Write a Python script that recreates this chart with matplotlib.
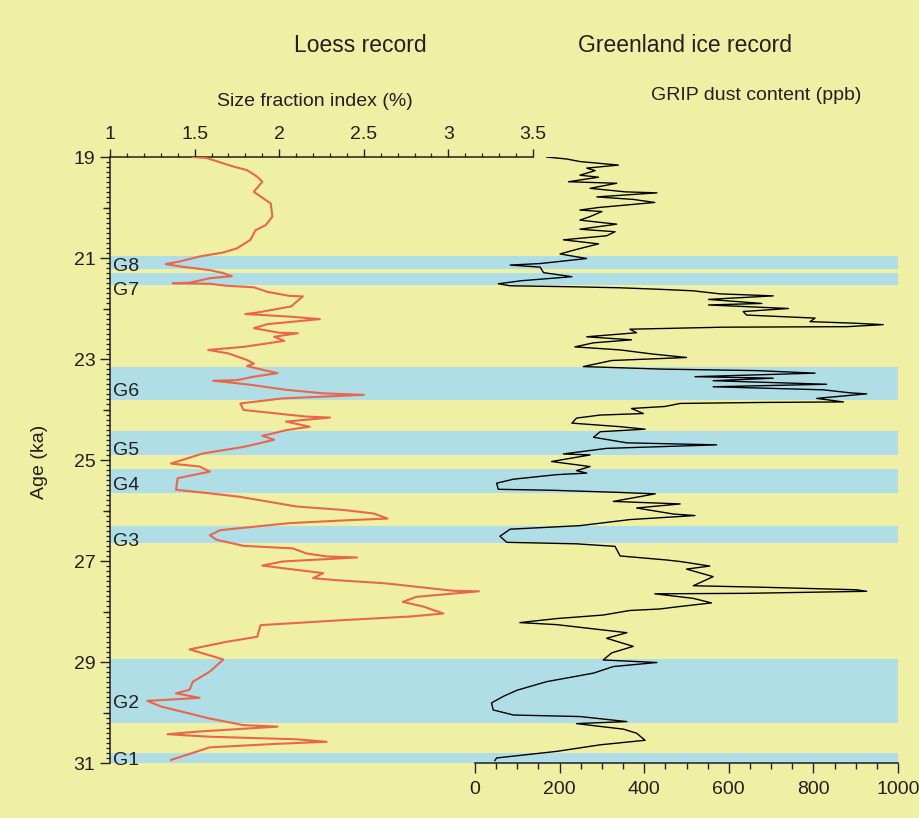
import numpy as np
import matplotlib
matplotlib.use("Agg")
import matplotlib.pyplot as plt
from matplotlib.ticker import MultipleLocator, FixedLocator

plt.rcParams['font.family'] = ['Liberation Sans', 'DejaVu Sans']

# loess record: age (ka) vs size fraction index (%)
loess_age = [19.00, 19.02, 19.19, 19.26, 19.39, 19.49, 19.69, 19.85, 19.92, 20.18,
             20.35, 20.45, 20.64, 20.81, 20.89, 20.97, 21.07, 21.12, 21.17, 21.24,
             21.30, 21.36, 21.40, 21.49, 21.50, 21.51, 21.55, 21.58, 21.67, 21.75,
             21.76, 21.96, 22.08, 22.11, 22.16, 22.21, 22.31, 22.39, 22.48, 22.49,
             22.56, 22.64, 22.76, 22.82, 22.89, 23.02, 23.09, 23.14, 23.22, 23.28,
             23.35, 23.42, 23.43, 23.51, 23.61, 23.68, 23.71, 23.78, 23.88, 24.01,
             24.08, 24.14, 24.16, 24.24, 24.34, 24.41, 24.50, 24.52, 24.60, 24.74,
             24.87, 25.07, 25.13, 25.23, 25.36, 25.59, 25.66, 25.73, 25.92, 25.99,
             26.06, 26.16, 26.19, 26.25, 26.39, 26.49, 26.58, 26.70, 26.75, 26.85,
             26.91, 26.93, 27.01, 27.09, 27.15, 27.24, 27.34, 27.38, 27.44, 27.54,
             27.59, 27.60, 27.71, 27.81, 27.90, 28.04, 28.10, 28.17, 28.27, 28.50,
             28.60, 28.75, 28.95, 29.19, 29.39, 29.55, 29.62, 29.71, 29.77, 29.88,
             30.12, 30.25, 30.28, 30.38, 30.43, 30.48, 30.53, 30.58, 30.62, 30.69,
             30.94]
loess_index = [1.49, 1.57, 1.73, 1.81, 1.87, 1.90, 1.85, 1.92, 1.95, 1.96,
               1.92, 1.86, 1.83, 1.75, 1.67, 1.53, 1.41, 1.33, 1.42, 1.59,
               1.67, 1.72, 1.59, 1.47, 1.37, 1.59, 1.69, 1.85, 1.93, 2.06,
               2.14, 2.07, 1.87, 1.80, 2.06, 2.24, 1.93, 1.85, 2.00, 2.11,
               1.97, 2.03, 1.79, 1.58, 1.70, 1.81, 1.85, 1.81, 1.91, 1.99,
               1.85, 1.75, 1.61, 1.83, 2.04, 2.26, 2.50, 2.02, 1.77, 1.79,
               1.99, 2.16, 2.30, 2.04, 2.18, 2.04, 1.93, 1.90, 1.97, 1.79,
               1.55, 1.36, 1.53, 1.59, 1.40, 1.39, 1.59, 1.77, 2.10, 2.38,
               2.56, 2.64, 2.42, 2.06, 1.65, 1.59, 1.63, 1.79, 2.08, 2.16,
               2.28, 2.46, 2.02, 1.90, 2.04, 2.26, 2.20, 2.34, 2.62, 2.89,
               3.03, 3.18, 2.81, 2.73, 2.85, 2.97, 2.77, 2.38, 1.89, 1.87,
               1.69, 1.47, 1.67, 1.59, 1.49, 1.47, 1.39, 1.53, 1.22, 1.30,
               1.59, 1.79, 1.99, 1.51, 1.34, 1.59, 2.10, 2.28, 1.99, 1.59,
               1.36]

# Greenland ice record: age (ka) vs GRIP dust content (ppb)
dust_age = [19.00, 19.04, 19.09, 19.16, 19.22, 19.27, 19.36, 19.40, 19.49, 19.52,
            19.62, 19.69, 19.71, 19.79, 19.84, 19.90, 20.00, 20.05, 20.08, 20.18,
            20.25, 20.33, 20.43, 20.48, 20.56, 20.64, 20.72, 20.83, 20.92, 21.01,
            21.11, 21.14, 21.18, 21.29, 21.37, 21.45, 21.51, 21.55, 21.57, 21.59,
            21.62, 21.65, 21.71, 21.75, 21.82, 21.90, 21.93, 22.00, 22.06, 22.13,
            22.19, 22.26, 22.29, 22.32, 22.36, 22.37, 22.41, 22.48, 22.56, 22.62,
            22.68, 22.76, 22.82, 22.90, 22.97, 23.03, 23.15, 23.20, 23.23, 23.28,
            23.35, 23.38, 23.43, 23.50, 23.55, 23.61, 23.67, 23.69, 23.78, 23.85,
            23.86, 23.88, 23.94, 23.98, 24.08, 24.11, 24.17, 24.27, 24.34, 24.39,
            24.44, 24.55, 24.66, 24.70, 24.77, 24.88, 24.90, 25.03, 25.13, 25.21,
            25.26, 25.29, 25.38, 25.46, 25.58, 25.60, 25.64, 25.67, 25.82, 25.87,
            25.95, 26.07, 26.10, 26.18, 26.30, 26.37, 26.51, 26.63, 26.66, 26.71,
            26.90, 26.98, 27.01, 27.10, 27.16, 27.31, 27.49, 27.52, 27.57, 27.60,
            27.64, 27.65, 27.74, 27.83, 27.90, 27.95, 27.98, 28.07, 28.14, 28.22,
            28.26, 28.42, 28.53, 28.69, 28.82, 28.96, 29.01, 29.09, 29.22, 29.39,
            29.56, 29.68, 29.81, 29.95, 30.05, 30.08, 30.18, 30.22, 30.33, 30.41,
            30.55, 30.64, 30.77, 30.90, 30.95]
dust_ppb = [169, 217, 248, 339, 264, 284, 248, 292, 221, 335,
            272, 355, 430, 288, 374, 425, 292, 248, 300, 272,
            248, 335, 248, 331, 311, 209, 292, 240, 201, 264,
            154, 83, 154, 162, 229, 110, 55, 83, 232, 343,
            437, 516, 579, 705, 552, 678, 552, 741, 634, 642,
            804, 792, 894, 965, 879, 587, 366, 382, 264, 370,
            280, 236, 343, 418, 500, 323, 256, 441, 666, 804,
            520, 705, 563, 831, 563, 823, 887, 926, 808, 871,
            682, 485, 449, 370, 398, 296, 240, 229, 343, 402,
            296, 280, 359, 571, 311, 209, 272, 181, 272, 240,
            264, 193, 91, 51, 55, 185, 335, 426, 327, 485,
            382, 469, 520, 366, 248, 83, 59, 75, 240, 331,
            343, 453, 485, 555, 500, 563, 516, 682, 902, 926,
            642, 425, 516, 559, 485, 437, 366, 303, 193, 106,
            193, 359, 311, 374, 323, 303, 430, 327, 280, 169,
            99, 67, 39, 43, 91, 248, 359, 240, 351, 382,
            402, 296, 193, 51, 47]

# stadial bands (age start, age end) and labels
band_names = ['G8', 'G7', 'G6', 'G5', 'G4', 'G3', 'G2', 'G1']
band_start = [20.97, 21.29, 23.15, 24.42, 25.18, 26.31, 28.94, 30.81]
band_end = [21.22, 21.54, 23.81, 24.90, 25.66, 26.65, 30.21, 31.00]
label_age = [21.16, 21.65, 23.65, 24.82, 25.50, 26.62, 29.83, 30.96]

bg = '#F0F0A4'
blue = '#B0DEE7'
red = '#E8674A'
ink = '#231F20'

W, H = 919, 818
fig = plt.figure(figsize=(W / 100, H / 100), dpi=100, facecolor=bg)
ax = fig.add_axes([110 / W, 1 - 763 / H, 788 / W, 606 / H])
ax.set_facecolor(bg)

for s, e in zip(band_start, band_end):
    ax.axhspan(s, e, color=blue, lw=0, zorder=0)
for name, a in zip(band_names, label_age):
    ax.text(0.004, a, name, transform=ax.get_yaxis_transform(), fontsize=14,
            color=ink, va='center', ha='left', zorder=3)

# GRIP dust on the main axes (bottom scale)
ax.plot(dust_ppb, dust_age, color='black', lw=1.0, zorder=2)
ax.set_xlim(-863, 1000)
ax.set_ylim(31, 19)

ax.spines['top'].set_visible(False)
ax.spines['right'].set_visible(False)
ax.spines['bottom'].set_bounds(0, 1000)
for sp in ('left', 'bottom'):
    ax.spines[sp].set_color(ink)
    ax.spines[sp].set_linewidth(1.1)

ax.xaxis.set_major_locator(FixedLocator(np.arange(0, 1001, 200)))
ax.xaxis.set_minor_locator(FixedLocator(np.arange(0, 1001, 50)))
ax.yaxis.set_major_locator(FixedLocator(np.arange(19, 32, 2)))
ax.yaxis.set_minor_locator(MultipleLocator(0.1))
ax.tick_params(axis='x', which='major', length=7, width=1, color=ink,
               labelsize=14, labelcolor=ink, pad=6)
ax.tick_params(axis='x', which='minor', length=4, width=1, color=ink)
ax.tick_params(axis='y', which='major', length=7.5, width=1, color=ink,
               labelsize=14, labelcolor=ink, pad=3)
ax.tick_params(axis='y', which='minor', length=3, width=0.9, color=ink)

# medium ticks at even ages
sec = ax.secondary_yaxis('left')
sec.yaxis.set_major_locator(FixedLocator(np.arange(20, 31, 2)))
sec.yaxis.set_minor_locator(FixedLocator([]))
sec.tick_params(axis='y', length=5, width=1, color=ink, labelleft=False)
sec.spines['left'].set_visible(False)

# loess on a twin axes (top scale)
ax2 = ax.twiny()
ax2.plot(loess_index, loess_age, color=red, lw=1.5, zorder=3)
ax2.set_xlim(1, 1 + 788 * 2.5 / 423)
for sp in ('left', 'right', 'bottom'):
    ax2.spines[sp].set_visible(False)
ax2.spines['top'].set_bounds(1, 3.5)
ax2.spines['top'].set_color(ink)
ax2.spines['top'].set_linewidth(1.1)
ax2.xaxis.set_major_locator(FixedLocator([1, 1.5, 2, 2.5, 3, 3.5]))
ax2.xaxis.set_minor_locator(FixedLocator(np.arange(1, 3.51, 0.1)))
ax2.set_xticklabels(['1', '1.5', '2', '2.5', '3', '3.5'])
ax2.tick_params(axis='x', which='major', length=6, width=1, color=ink,
                labelsize=14, labelcolor=ink, pad=4)
ax2.tick_params(axis='x', which='minor', length=3, width=0.9, color=ink)

def ftext(x, y, s, size, **kw):
    fig.text(x / W, 1 - y / H, s, fontsize=size, color=ink, ha='center', va='center', **kw)

ftext(360, 45, 'Loess record', 16.5)
ftext(685, 45, 'Greenland ice record', 16.5)
ftext(315, 101, 'Size fraction index (%)', 14)
ftext(756, 95, 'GRIP dust content (ppb)', 14)
ftext(40, 462, 'Age (ka)', 14, rotation=90)

fig.savefig('out.png', dpi=100, facecolor=bg)
